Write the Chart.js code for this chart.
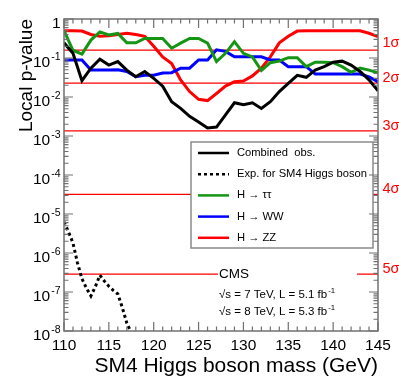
<!DOCTYPE html>
<html>
<head>
<meta charset="utf-8">
<script src="https://cdn.jsdelivr.net/npm/chart.js@4.4.0/dist/chart.umd.min.js"></script>
<style>
  body { margin: 0; background: #fff; }
  #wrap { width: 399px; height: 383px; }
</style>
</head>
<body>
<div id="wrap"><canvas id="pvalChart" width="399" height="383"></canvas></div>
<script>
// Local p-value vs SM4 Higgs mass, CMS style

const masses = [110, 111, 112, 113, 114, 115, 116, 117, 118, 119, 120, 121,
  122, 123, 124, 125, 126, 127, 128, 129, 130, 131, 132, 133,
  134, 135, 136, 137, 138, 139, 140, 141, 142, 143, 144, 145];

const combinedObs = [0.245, 0.132, 0.0263, 0.055, 0.093, 0.066, 0.081, 0.049, 0.033, 0.045, 0.030, 0.019,
  0.0076, 0.0051, 0.0032, 0.0023, 0.0016, 0.0017, 0.0035, 0.0071, 0.0063, 0.0071, 0.0051, 0.0076,
  0.0138, 0.0224, 0.036, 0.032, 0.049, 0.060, 0.078, 0.083, 0.066, 0.045, 0.0275, 0.0145];

const tauTau = [0.5, 0.158, 0.126, 0.288, 0.468, 0.389, 0.427, 0.245, 0.245, 0.316, 0.316, 0.316,
  0.178, 0.24, 0.316, 0.316, 0.24, 0.081, 0.132, 0.263, 0.132, 0.107, 0.048, 0.076,
  0.083, 0.102, 0.102, 0.060, 0.078, 0.078, 0.076, 0.060, 0.043, 0.055, 0.049, 0.042];

const wwObs = [0.089, 0.089, 0.089, 0.049, 0.049, 0.049, 0.050, 0.045, 0.033, 0.036, 0.036, 0.041,
  0.042, 0.055, 0.055, 0.089, 0.089, 0.162, 0.148, 0.107, 0.107, 0.107, 0.107, 0.089,
  0.089, 0.060, 0.060, 0.060, 0.039, 0.039, 0.039, 0.039, 0.039, 0.039, 0.033, 0.0245];

const zzObs = [0.5, 0.5, 0.49, 0.40, 0.36, 0.37, 0.40, 0.43, 0.40, 0.36, 0.20, 0.107,
  0.072, 0.0275, 0.0138, 0.0087, 0.0081, 0.0123, 0.019, 0.0245, 0.0257, 0.0347, 0.055, 0.107,
  0.245, 0.36, 0.49, 0.5, 0.5, 0.5, 0.5, 0.5, 0.5, 0.5, 0.43, 0.355];

const expMasses = [110, 110.5, 111, 111.5, 112, 112.5, 113, 113.5, 114, 114.5, 115, 115.5,
  116, 116.5, 117, 117.5];
const expSM4 = [6.3e-6, 3.5e-6, 1.8e-6, 5.6e-7, 2.2e-7, 1.26e-7, 7.9e-8, 1.38e-7, 2.7e-7, 1.9e-7, 1.4e-7, 1.1e-7,
  8.9e-8, 4.0e-8, 1.6e-8, 8.9e-9];

const sigmaLevels = [0.1587, 0.02275, 0.00135, 3.17e-5, 2.87e-7];
const sigmaLabels = ['1σ', '2σ', '3σ', '4σ', '5σ'];

const xTicks = [110, 115, 120, 125, 130, 135, 140, 145];
const yTicks = [1, 1e-1, 1e-2, 1e-3, 1e-4, 1e-5, 1e-6, 1e-7, 1e-8];
const yTickExp = ['', '-1', '-2', '-3', '-4', '-5', '-6', '-7', '-8'];

const legendLabels = ['Combined  obs.', 'Exp. for SM4 Higgs boson', 'H → ττ', 'H → WW', 'H → ZZ'];

const FONT = '"Liberation Sans", Arial, Helvetica, sans-serif';
const font = (s) => s + 'px ' + FONT;
const RED = '#ff0000';
const GREEN = '#149614';
const BLUE = '#0000ff';
const FRAME = '#707070';

const pts = (xs, ys) => xs.map((x, i) => ({ x: x, y: ys[i] }));

const curves = [
  { label: legendLabels[0], data: pts(masses, combinedObs), borderColor: '#000', borderWidth: 3 },
  { label: legendLabels[1], data: pts(expMasses, expSM4), borderColor: '#000', borderWidth: 3, borderDash: [3, 3] },
  { label: legendLabels[2], data: pts(masses, tauTau), borderColor: GREEN, borderWidth: 3 },
  { label: legendLabels[3], data: pts(masses, wwObs), borderColor: BLUE, borderWidth: 3 },
  { label: legendLabels[4], data: pts(masses, zzObs), borderColor: RED, borderWidth: 3 }
];

const sigmaSets = sigmaLevels.map((s, i) => ({
  label: sigmaLabels[i],
  data: [{ x: 110, y: s }, { x: 145, y: s }],
  borderColor: RED,
  borderWidth: 1.2
}));

// draws "base" with a raised superscript
function supText(ctx, base, sup, x, y, size, align) {
  ctx.font = font(size);
  const wb = ctx.measureText(base).width;
  ctx.font = font(size * 0.68);
  const ws = sup ? ctx.measureText(sup).width + 1 : 0;
  const left = align === 'right' ? x - wb - ws : x;
  ctx.textAlign = 'left';
  ctx.textBaseline = 'alphabetic';
  ctx.font = font(size);
  ctx.fillText(base, left, y);
  if (sup) {
    ctx.font = font(size * 0.68);
    ctx.fillText(sup, left + wb + 1, y - size * 0.42);
  }
  return left + wb + ws;
}

const decorations = {
  id: 'decorations',
  afterDraw(chart) {
    const ctx = chart.ctx;
    const a = chart.chartArea;
    const xs = chart.scales.x, ys = chart.scales.y;
    ctx.save();

    // white box behind CMS text (breaks the 5 sigma line)
    ctx.fillStyle = '#fff';
    ctx.fillRect(218, 263, 139, 58);

    // legend
    const lg = { l: 191, t: 142, r: 373, b: 248 };
    ctx.fillStyle = '#fff';
    ctx.fillRect(lg.l, lg.t, lg.r - lg.l, lg.b - lg.t);
    ctx.strokeStyle = '#8a8a8a';
    ctx.lineWidth = 1.5;
    ctx.strokeRect(lg.l, lg.t, lg.r - lg.l, lg.b - lg.t);
    curves.forEach((c, i) => {
      const yy = lg.t + 11 + i * 21.2;
      ctx.beginPath();
      ctx.strokeStyle = c.borderColor;
      ctx.lineWidth = 2.5;
      ctx.setLineDash(c.borderDash || []);
      ctx.moveTo(198, yy);
      ctx.lineTo(229, yy);
      ctx.stroke();
      ctx.setLineDash([]);
      ctx.fillStyle = '#000';
      ctx.font = font(11.2);
      ctx.textAlign = 'left';
      ctx.textBaseline = 'middle';
      ctx.fillText(c.label, 237, yy);
    });

    // CMS label
    ctx.fillStyle = '#000';
    ctx.font = font(13.5);
    ctx.textAlign = 'left';
    ctx.textBaseline = 'alphabetic';
    ctx.fillText('CMS', 219, 278);
    supText(ctx, '√s = 7 TeV, L = 5.1 fb', '-1', 219, 298, 11.5, 'left');
    supText(ctx, '√s = 8 TeV, L = 5.3 fb', '-1', 219, 315, 11.5, 'left');

    // frame
    ctx.strokeStyle = FRAME;
    ctx.lineWidth = 1.5;
    ctx.strokeRect(a.left, a.top, a.right - a.left, a.bottom - a.top);

    // ticks
    ctx.lineWidth = 1.2;
    ctx.beginPath();
    for (let m = 110; m <= 145; m++) {
      const px = xs.getPixelForValue(m);
      const len = m % 5 === 0 ? 9 : 4.5;
      ctx.moveTo(px, a.bottom); ctx.lineTo(px, a.bottom - len);
      ctx.moveTo(px, a.top); ctx.lineTo(px, a.top + len);
    }
    yTicks.forEach((v, i) => {
      const py = ys.getPixelForValue(v);
      ctx.moveTo(a.left, py); ctx.lineTo(a.left + 9, py);
      ctx.moveTo(a.right, py); ctx.lineTo(a.right - 9, py);
      if (i < yTicks.length - 1) {
        for (let k = 2; k <= 9; k++) {
          const pm = ys.getPixelForValue(v * k / 10);
          ctx.moveTo(a.left, pm); ctx.lineTo(a.left + 4.5, pm);
          ctx.moveTo(a.right, pm); ctx.lineTo(a.right - 4.5, pm);
        }
      }
    });
    ctx.stroke();

    // tick labels
    ctx.fillStyle = '#000';
    ctx.font = font(15.5);
    ctx.textAlign = 'center';
    ctx.textBaseline = 'alphabetic';
    xTicks.forEach(t => ctx.fillText(String(t), xs.getPixelForValue(t), 350));
    yTicks.forEach((v, i) => {
      const py = ys.getPixelForValue(v);
      supText(ctx, i === 0 ? '1' : '10', yTickExp[i], 60.5, py + 8.5, 15.5, 'right');
    });

    // sigma labels
    ctx.fillStyle = RED;
    ctx.font = font(14.5);
    ctx.textAlign = 'left';
    sigmaLevels.forEach((s, i) => {
      const py = ys.getPixelForValue(s);
      ctx.fillText(sigmaLabels[i], 382.5, py - (i === 0 ? 3 : 1));
    });

    // axis titles
    ctx.fillStyle = '#000';
    ctx.font = font(21);
    ctx.textAlign = 'right';
    ctx.fillText('SM4 Higgs boson mass (GeV)', 378, 372);
    ctx.save();
    ctx.translate(32, 19);
    ctx.rotate(-Math.PI / 2);
    ctx.font = font(19);
    ctx.textAlign = 'right';
    ctx.fillText('Local p-value', 0, 0);
    ctx.restore();

    ctx.restore();
  }
};

new Chart(document.getElementById('pvalChart').getContext('2d'), {
  type: 'line',
  data: { datasets: curves.concat(sigmaSets) },
  options: {
    responsive: false,
    animation: false,
    elements: { point: { radius: 0 }, line: { tension: 0 } },
    layout: { padding: { left: 64, top: 19, right: 21, bottom: 52 } },
    plugins: { legend: { display: false }, tooltip: { enabled: false } },
    scales: {
      x: { type: 'linear', min: 110, max: 145, display: false },
      y: { type: 'logarithmic', min: 1e-8, max: 1, display: false }
    }
  },
  plugins: [decorations]
});
</script>
</body>
</html>
